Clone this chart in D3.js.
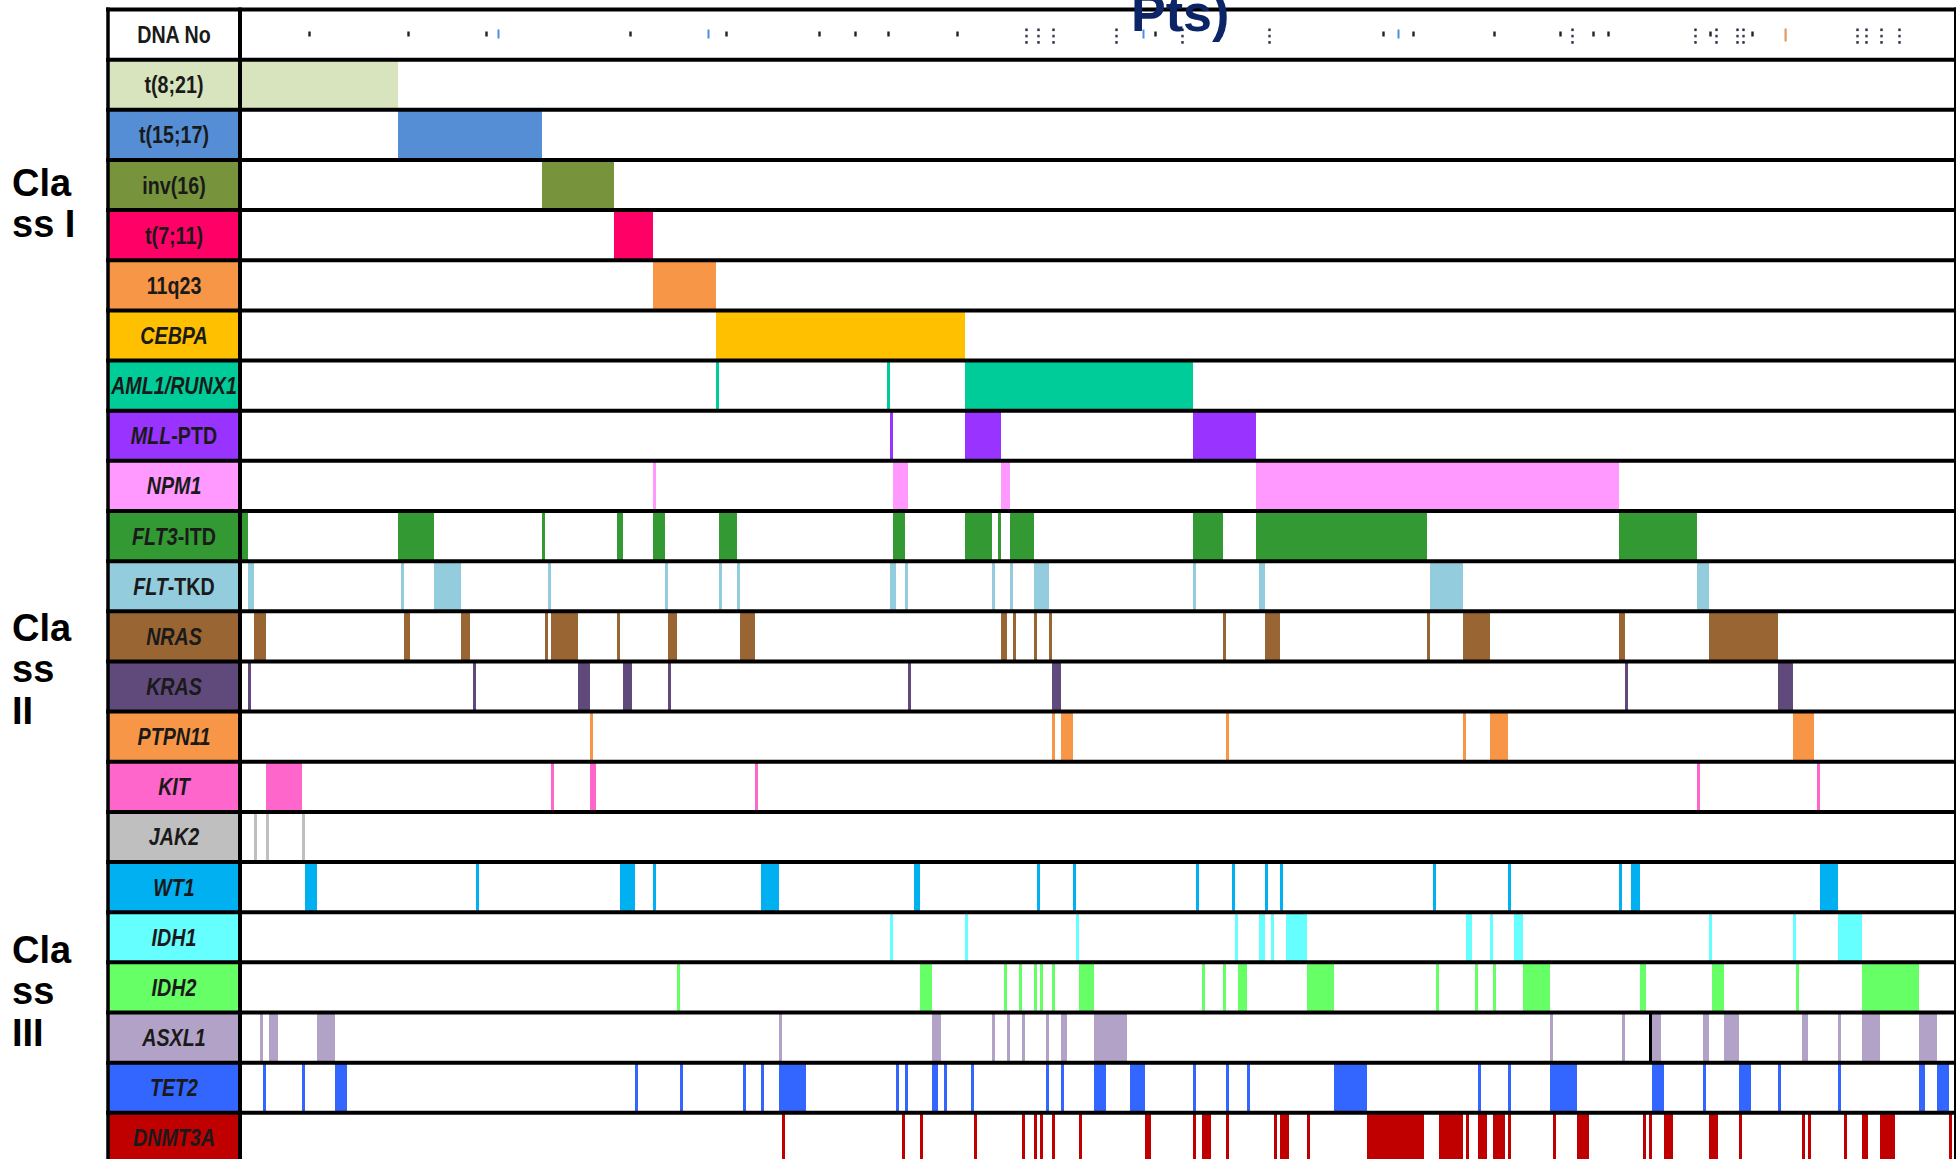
<!DOCTYPE html>
<html>
<head>
<meta charset="utf-8">
<script src="https://cdn.jsdelivr.net/npm/d3@7/dist/d3.min.js"></script>
<style>
  html, body { margin: 0; padding: 0; background: #ffffff; }
  svg { display: block; }
</style>
</head>
<body>
<svg id="chart" width="1956" height="1159"></svg>
<script>
// Row labels, top to bottom
const rowNames = ["DNA No", "t(8;21)", "t(15;17)", "inv(16)", "t(7;11)", "11q23", "CEBPA",
  "AML1/RUNX1", "MLL-PTD", "NPM1", "FLT3-ITD", "FLT-TKD", "NRAS", "KRAS", "PTPN11", "KIT",
  "JAK2", "WT1", "IDH1", "IDH2", "ASXL1", "TET2", "DNMT3A"];

// Number of leading characters of each label set in italics (gene symbols)
const italicPrefix = [0, 0, 0, 0, 0, 0, 5, 10, 3, 4, 4, 3, 4, 4, 6, 3, 4, 3, 4, 4, 5, 4, 6];

const rowColors = ["#ffffff", "#d7e4bd", "#558ed5", "#77933c", "#ff0066", "#f79646", "#ffc000",
  "#00cc99", "#9933ff", "#ff99ff", "#339933", "#93cddd", "#996633", "#604a7b", "#f79646", "#ff66cc",
  "#bfbfbf", "#00b0f0", "#66ffff", "#66ff66", "#b2a2c7", "#3366ff", "#c00000"];

// Mutated patients per row, as [first, end) runs of patient index
const t821 = [[0, 52]];
const t1517 = [[52, 100]];
const inv16 = [[100, 124]];
const t711 = [[124, 137]];
const q23 = [[137, 158]];
const cebpa = [[158, 241]];
const aml1 = [[158, 159], [215, 216], [241, 317]];
const mllPtd = [[216, 217], [241, 253], [317, 338]];
const npm1 = [[137, 138], [217, 222], [253, 256], [338, 459]];
const flt3Itd = [[0, 2], [52, 64], [100, 101], [125, 127], [137, 141], [159, 165], [217, 221],
  [241, 250], [252, 253], [256, 264], [317, 327], [338, 395], [459, 485]];
const fltTkd = [[2, 4], [53, 54], [64, 73], [102, 103], [141, 142], [159, 160], [165, 166],
  [216, 218], [221, 222], [250, 251], [256, 257], [264, 269], [317, 318], [339, 341], [396, 407], [485, 489]];
const nras = [[4, 8], [54, 56], [73, 76], [101, 102], [103, 112], [125, 126], [142, 145], [166, 171],
  [253, 255], [257, 258], [264, 265], [269, 270], [327, 328], [341, 346], [395, 396], [407, 416],
  [459, 461], [489, 512]];
const kras = [[2, 3], [77, 78], [112, 116], [127, 130], [142, 143], [222, 223], [270, 273], [461, 462], [512, 517]];
const ptpn11 = [[116, 117], [270, 271], [273, 277], [328, 329], [407, 408], [416, 422], [517, 524]];
const kit = [[8, 20], [103, 104], [116, 118], [171, 172], [485, 486], [525, 526]];
const jak2 = [[4, 5], [8, 9], [20, 21]];
const wt1 = [[21, 25], [78, 79], [126, 131], [137, 138], [173, 179], [224, 226], [265, 266], [277, 278],
  [318, 319], [330, 331], [341, 342], [346, 347], [397, 398], [422, 423], [459, 460], [463, 466], [526, 532]];
const idh1 = [[216, 217], [241, 242], [278, 279], [331, 332], [339, 341], [343, 344], [348, 355],
  [408, 410], [416, 417], [424, 427], [489, 490], [517, 518], [532, 540]];
const idh2 = [[145, 146], [226, 230], [254, 255], [259, 260], [264, 265], [266, 267], [270, 271],
  [279, 284], [320, 321], [327, 328], [332, 335], [355, 364], [398, 399], [411, 412], [417, 418],
  [427, 436], [466, 468], [490, 494], [518, 519], [540, 559]];
const asxl1 = [[6, 7], [9, 12], [25, 31], [179, 180], [230, 233], [250, 251], [255, 256], [260, 261],
  [268, 269], [273, 275], [284, 295], [436, 437], [460, 461], [470, 473], [487, 489], [494, 499],
  [520, 522], [532, 533], [540, 546], [559, 565]];
const asxl1Rule = [469];
const tet2 = [[7, 8], [20, 21], [31, 35], [131, 132], [146, 147], [167, 168], [173, 174], [179, 188],
  [218, 219], [221, 222], [230, 232], [234, 235], [243, 244], [268, 269], [273, 274], [284, 288],
  [296, 301], [317, 318], [328, 329], [335, 336], [364, 375], [412, 413], [422, 423], [436, 445],
  [470, 474], [487, 488], [499, 503], [512, 513], [532, 533], [559, 561], [565, 569]];
const dnmt3a = [[180, 181], [220, 221], [226, 227], [244, 245], [260, 261], [264, 265], [266, 267],
  [270, 271], [279, 280], [301, 303], [317, 318], [320, 323], [328, 329], [344, 345], [346, 349],
  [355, 356], [375, 394], [399, 407], [408, 409], [412, 415], [417, 421], [422, 423], [437, 438],
  [445, 449], [467, 468], [469, 470], [474, 477], [489, 492], [499, 500], [520, 521], [522, 523],
  [534, 535], [540, 542], [546, 551], [569, 570]];

// Tiny sample-number marks in the "DNA No" row (patient index)
const dnaDots = [22, 55, 81, 129, 161, 192, 204, 215, 238, 304, 326, 380, 390, 417, 439, 450, 455, 489, 503];
const dnaStacks = [261, 265, 270, 291, 313, 342, 443, 484, 491, 498, 500, 538, 541, 546, 552];
const dnaBlue = [85, 155, 300, 385];
const dnaOrange = [514];

const patientCount = 571;

// Class groupings at the left
const classLabels = [
  { lines: ["Cla", "ss I"], baseline: 196 },
  { lines: ["Cla", "ss", "II"], baseline: 641 },
  { lines: ["Cla", "ss", "III"], baseline: 963 }
];

const titleText = "Pts)";

// ---------------------------------------------------------------
const segments = [[], t821, t1517, inv16, t711, q23, cebpa, aml1, mllPtd, npm1, flt3Itd, fltTkd,
  nras, kras, ptpn11, kit, jak2, wt1, idh1, idh2, asxl1, tet2, dnmt3a];

const svg = d3.select("#chart");

const labelLeft = 108, labelRight = 240, dataLeft = 242, dataRight = 1955;
const x = d3.scaleLinear().domain([0, patientCount]).range([dataLeft, dataRight]);
const rowH = 50.15, gridTop = 9.5;
const y = d3.scaleBand().domain(rowNames).range([gridTop, gridTop + rowNames.length * rowH]).padding(0);

// label cells
svg.append("g").selectAll("rect")
  .data(rowNames)
  .join("rect")
  .attr("x", labelLeft)
  .attr("y", d => y(d))
  .attr("width", labelRight - labelLeft)
  .attr("height", y.bandwidth())
  .attr("fill", (d, i) => rowColors[i]);

// mutation runs
const flat = [];
segments.forEach((segs, i) => segs.forEach(s => flat.push({ row: rowNames[i], s: s, color: rowColors[i] })));
asxl1Rule.forEach(p => flat.push({ row: "ASXL1", s: [p, p + 1], color: "#000000" }));

svg.append("g").selectAll("rect")
  .data(flat)
  .join("rect")
  .attr("x", d => x(d.s[0]))
  .attr("y", d => y(d.row))
  .attr("width", d => x(d.s[1]) - x(d.s[0]))
  .attr("height", y.bandwidth())
  .attr("fill", d => d.color)
  .attr("shape-rendering", "crispEdges");

// DNA No marks
const dnaY = y("DNA No");
const dna = svg.append("g");
dna.selectAll("rect.dot").data(dnaDots).join("rect").attr("class", "dot")
  .attr("x", d => x(d + 0.5) - 1.2).attr("y", dnaY + 22).attr("width", 2.4).attr("height", 5)
  .attr("fill", "#222");
const stackDots = [];
dnaStacks.forEach(p => [0, 1, 2].forEach(k => stackDots.push({ p, k })));
dna.selectAll("rect.st").data(stackDots).join("rect").attr("class", "st")
  .attr("x", d => x(d.p + 0.5) - 1.2).attr("y", d => dnaY + 19 + d.k * 6.3).attr("width", 2.4).attr("height", 2.6)
  .attr("fill", d => d.k === 1 ? "#3a3a55" : "#2a2a40");
dna.selectAll("rect.bl").data(dnaBlue).join("rect").attr("class", "bl")
  .attr("x", d => x(d + 0.5) - 1).attr("y", dnaY + 20).attr("width", 2).attr("height", 9)
  .attr("fill", "#4a8fe0");
dna.selectAll("rect.or").data(dnaOrange).join("rect").attr("class", "or")
  .attr("x", d => x(d + 0.5) - 1).attr("y", dnaY + 19).attr("width", 2.2).attr("height", 13)
  .attr("fill", "#e09a60");

// grid rules
const rules = d3.range(rowNames.length + 1).map(i => gridTop + i * rowH);
svg.append("g").selectAll("line")
  .data(rules)
  .join("line")
  .attr("x1", labelLeft - 2).attr("x2", dataRight + 1)
  .attr("y1", d => d).attr("y2", d => d)
  .attr("stroke", "#000").attr("stroke-width", 4);

const vrules = [{ x: labelLeft, w: 3.5 }, { x: labelRight, w: 4 }, { x: dataRight, w: 2 }];
svg.append("g").selectAll("line")
  .data(vrules)
  .join("line")
  .attr("x1", d => d.x).attr("x2", d => d.x)
  .attr("y1", gridTop - 2).attr("y2", 1159)
  .attr("stroke", "#000").attr("stroke-width", d => d.w);

// row labels
const lab = svg.append("g")
  .attr("font-family", "'Liberation Sans', Arial, sans-serif")
  .attr("font-size", 24)
  .attr("font-weight", "bold")
  .attr("fill", "#1a1a1a");
rowNames.forEach((name, i) => {
  const cy = y(name) + y.bandwidth() / 2 + 8.5;
  const t = lab.append("text")
    .attr("transform", `translate(${(labelLeft + labelRight) / 2},${cy}) scale(0.82,1)`)
    .attr("text-anchor", "middle");
  const n = italicPrefix[i];
  if (n > 0) t.append("tspan").attr("font-style", "italic").text(name.slice(0, n));
  if (n < name.length) t.append("tspan").text(name.slice(n));
});

// class labels
const cls = svg.append("g")
  .attr("font-family", "'Liberation Sans', Arial, sans-serif")
  .attr("font-size", 38)
  .attr("font-weight", "bold")
  .attr("fill", "#000");
classLabels.forEach(c => {
  c.lines.forEach((ln, k) => {
    cls.append("text").attr("x", 12).attr("y", c.baseline + k * 41.3).text(ln);
  });
});

// title (runs off the top edge)
svg.append("text")
  .attr("x", 1131).attr("y", 31)
  .attr("font-family", "'Liberation Sans', Arial, sans-serif")
  .attr("font-size", 52)
  .attr("font-weight", "bold")
  .attr("fill", "#0c2567")
  .text(titleText);
</script>
</body>
</html>
